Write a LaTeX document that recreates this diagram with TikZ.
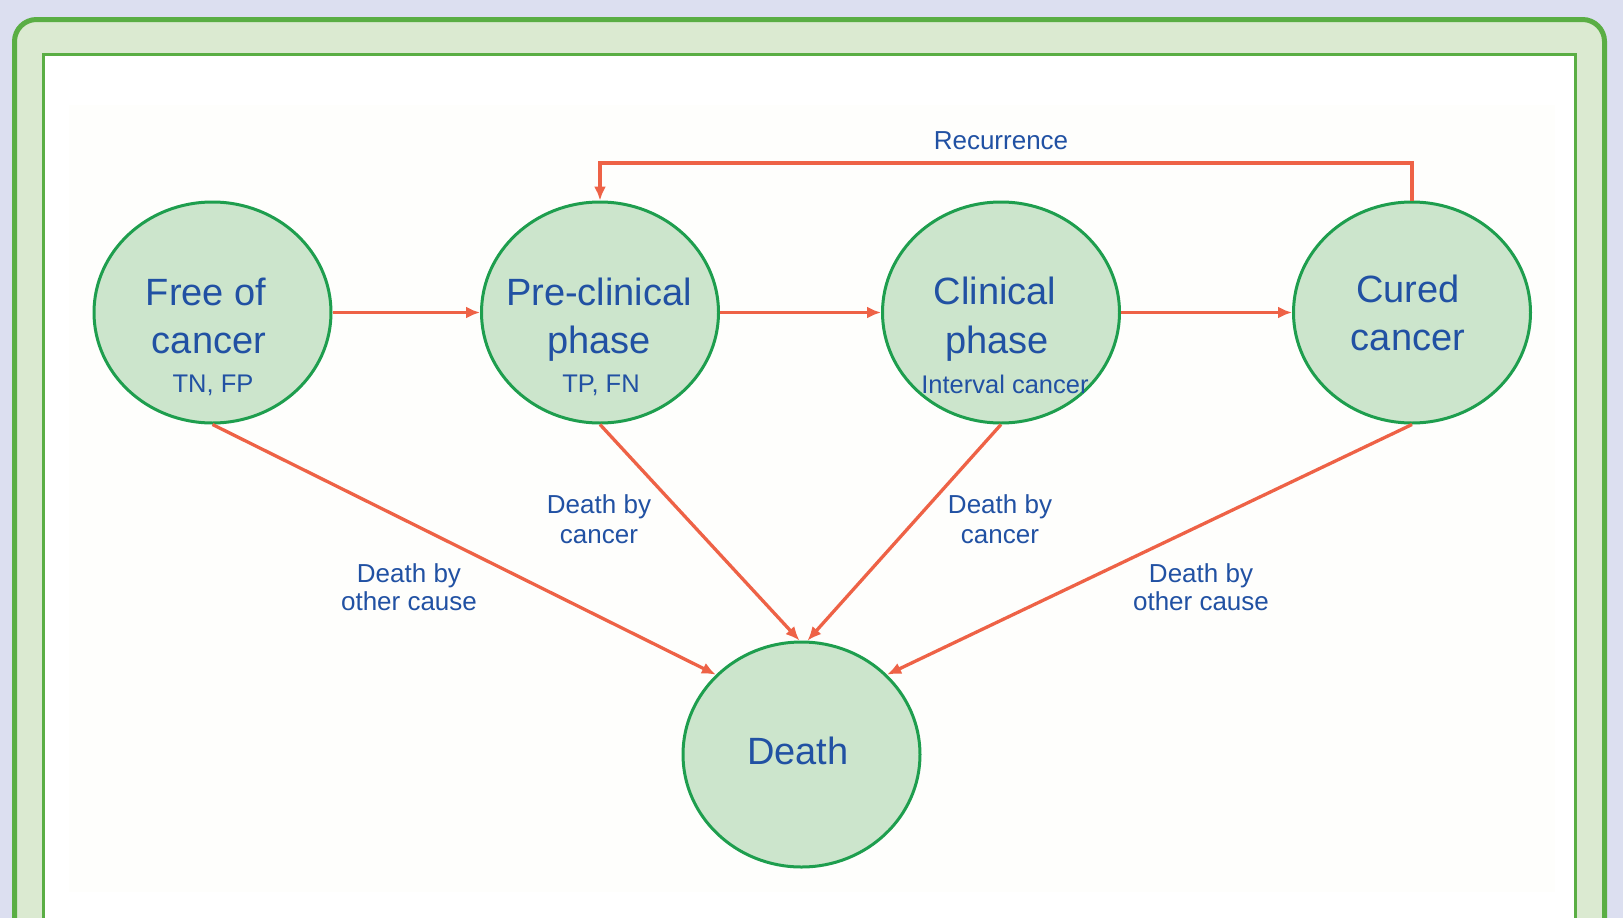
\documentclass[tikz,border=0pt]{standalone}
\usepackage{fontspec}
\setmainfont{Liberation Sans}
\usetikzlibrary{shapes.geometric,arrows.meta}
\definecolor{bglav}{HTML}{DCDFF0}
\definecolor{framegreen}{HTML}{5AAE44}
\definecolor{framefill}{HTML}{DBEAD1}
\definecolor{paper}{HTML}{FEFEFC}
\definecolor{statefill}{HTML}{CCE5CC}
\definecolor{stateline}{HTML}{1E9E4E}
\definecolor{txtblue}{HTML}{2151A3}
\definecolor{arrred}{HTML}{EE6246}
\tikzset{
  state/.style={ellipse, draw=stateline, line width=3pt, fill=statefill,
    minimum width=237pt, minimum height=221pt, inner sep=0pt},
  bigtxt/.style={anchor=base, inner sep=0pt, text=txtblue,
    font=\fontsize{38}{44}\selectfont},
  smalltxt/.style={anchor=base, inner sep=0pt, text=txtblue,
    font=\fontsize{25.5}{30}\selectfont},
  lbl/.style={anchor=base, inner sep=0pt, text=txtblue,
    font=\fontsize{26}{30}\selectfont},
  conn/.style={draw=arrred, line width=3.3pt,
    -{Latex[length=14pt,width=12pt]}},
}
\begin{document}
\begin{tikzpicture}[x=1pt,y=-1pt]
\useasboundingbox (0,0) rectangle (1623,918);
\fill[bglav] (0,0) rectangle (1623,918);
\draw[framegreen, fill=framefill, line width=5pt, rounded corners=22pt]
  (14.5,960) -- (14.5,19.5) -- (1604.5,19.5) -- (1604.5,960);
\draw[framegreen, fill=white, line width=2.5pt]
  (43.5,960) -- (43.5,54.5) -- (1575.5,54.5) -- (1575.5,960);
\fill[paper] (69,105) rectangle (1555,892);

% states
\node[state] (free) at (212.5,312.5) {};
\node[state] (pre) at (600,312.5) {};
\node[state] (clin) at (1001,312.5) {};
\node[state] (cured) at (1412,312.5) {};
\node[state, minimum height=225pt] (death) at (801.5,754.5) {};

% texts
\node[bigtxt] (t1a) at (206,305) {Free of};
\node[bigtxt] (t1b) at (209,353) {cancer};
\node[smalltxt] (t1c) at (213,392) {TN, FP};
\node[bigtxt] (t2a) at (599,305) {Pre-clinical};
\node[bigtxt] (t2b) at (599,353) {phase};
\node[smalltxt] (t2c) at (601,392) {TP, FN};
\node[bigtxt] (t3a) at (995,304) {Clinical};
\node[bigtxt] (t3b) at (997,353) {phase};
\node[smalltxt] (t3c) at (1005,393) {Interval cancer};
\node[bigtxt] (t4a) at (1408,302) {Cured};
\node[bigtxt] (t4b) at (1408,350) {cancer};
\node[bigtxt] (t5) at (798,764) {Death};

% connectors
\draw[conn] (free.east) -- (pre.west);
\draw[conn] (pre.east) -- (clin.west);
\draw[conn] (clin.east) -- (cured.west);
\coordinate (rtop) at (1001,163);
\draw[conn] (cured.north) -- (cured.north |- rtop) -| (pre.north);
\draw[conn] (free.south) -- (death.137.4);
\draw[conn] (pre.south) -- (death.91.8);
\draw[conn] (clin.south) -- (death.87.2);
\draw[conn] (cured.south) -- (death.43.3);

% labels
\node[lbl] (rec) at (1001,149) {Recurrence};
\node[lbl] (l1a) at (599,513) {Death by};
\node[lbl] (l1b) at (599,543) {cancer};
\node[lbl] (l2a) at (1000,513) {Death by};
\node[lbl] (l2b) at (1000,543) {cancer};
\node[lbl] (l3a) at (409,582) {Death by};
\node[lbl] (l3b) at (409,610) {other cause};
\node[lbl] (l4a) at (1201,582) {Death by};
\node[lbl] (l4b) at (1201,610) {other cause};
\end{tikzpicture}
\end{document}
